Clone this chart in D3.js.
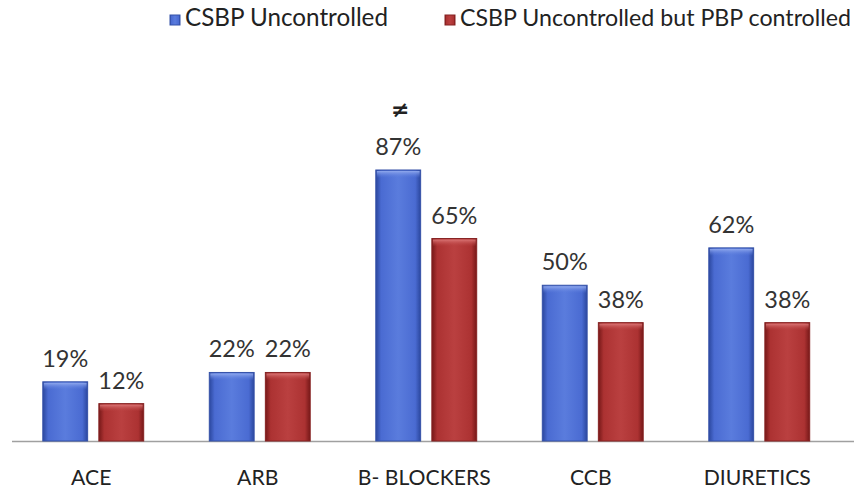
<!DOCTYPE html>
<html><head><meta charset="utf-8">
<script src="https://cdn.jsdelivr.net/npm/d3@7"></script>
<style>body{margin:0;background:#fff;} svg{display:block;}</style>
</head><body>
<svg id="chart" width="854" height="490"></svg>
<script>
const categories = ["ACE", "ARB", "B- BLOCKERS", "CCB", "DIURETICS"];
const seriesNames = ["CSBP Uncontrolled", "CSBP Uncontrolled but PBP controlled"];
const uncontrolled = [19, 22, 87, 50, 62];
const pbpControlled = [12, 22, 65, 38, 38];
const markers = ["", "", "≠", "", ""];

const svg = d3.select("#chart");
const FONT = "Lato, 'Open Sans', sans-serif";
const W = 854, H = 490;
const baseY = 441;

const x0 = d3.scaleBand().domain(categories).range([10, 842.5]).paddingInner(0.394).paddingOuter(0.197);
const x1 = d3.scaleBand().domain([0, 1]).range([0, x0.bandwidth()]).paddingInner(0.2);
const y = d3.scaleLinear().domain([0, 100]).range([baseY, 129.5]);

const colors = [
  {id: "gBlue", tid: "tBlue", edge: "#2b479e", mid: "#4a6bd2", light: "#5a7cdd", top: "#93abee", stroke: "#3552a8"},
  {id: "gRed", tid: "tRed", edge: "#761818", mid: "#ac3232", light: "#ba4040", top: "#dc7878", stroke: "#862222"}
];
const defs = svg.append("defs");
colors.forEach(c => {
  const g = defs.append("linearGradient").attr("id", c.id).attr("x1", 0).attr("x2", 1).attr("y1", 0).attr("y2", 0);
  g.append("stop").attr("offset", "0").attr("stop-color", c.edge);
  g.append("stop").attr("offset", "0.12").attr("stop-color", c.mid);
  g.append("stop").attr("offset", "0.5").attr("stop-color", c.light);
  g.append("stop").attr("offset", "0.88").attr("stop-color", c.mid);
  g.append("stop").attr("offset", "1").attr("stop-color", c.edge);
  const t = defs.append("linearGradient").attr("id", c.tid).attr("x1", 0).attr("x2", 0).attr("y1", 0).attr("y2", 1);
  t.append("stop").attr("offset", "0").attr("stop-color", c.top).attr("stop-opacity", 0.95);
  t.append("stop").attr("offset", "1").attr("stop-color", c.light).attr("stop-opacity", 0);
});

function fitSize(text, targetW, weight) {
  const t = svg.append("text").attr("font-family", FONT).attr("font-size", 20).attr("font-weight", weight || 400).text(text);
  const w = t.node().getComputedTextLength();
  t.remove();
  return 20 * targetW / w;
}

// axis line
svg.append("line").attr("x1", 12).attr("x2", W).attr("y1", baseY + 0.5).attr("y2", baseY + 0.5)
  .attr("stroke", "#a0a0a0").attr("stroke-width", 1.5);

const data = categories.map((c, i) => ({cat: c, vals: [uncontrolled[i], pbpControlled[i]], mark: markers[i]}));

const valSize = fitSize("87%", 46);
const catSize = fitSize("B- BLOCKERS", 133);

const groups = svg.selectAll("g.grp").data(data).join("g").attr("class", "grp")
  .attr("transform", d => `translate(${x0(d.cat)},0)`);

groups.selectAll("g.bar").data(d => d.vals.map((v, k) => ({v, k}))).join("g").attr("class", "bar").each(function(d) {
  const g = d3.select(this);
  const c = colors[d.k];
  const bx = x1(d.k), bw = x1.bandwidth(), by = y(d.v), bh = baseY - y(d.v);
  g.append("rect").attr("x", bx).attr("y", by).attr("width", bw).attr("height", bh)
    .attr("fill", `url(#${c.id})`).attr("stroke", c.stroke).attr("stroke-width", 1);
  g.append("rect").attr("x", bx + 1).attr("y", by + 1).attr("width", bw - 2).attr("height", 7)
    .attr("fill", `url(#${c.tid})`);
  g.append("text").attr("x", bx + bw / 2).attr("y", by - 15).attr("text-anchor", "middle")
    .attr("font-family", FONT).attr("font-size", valSize).attr("fill", "#333").text(d.v + "%");
});

groups.filter(d => d.mark).append("text")
  .attr("x", d => x1(0) + x1.bandwidth() / 2 + 2)
  .attr("y", d => y(d.vals[0]) - 53)
  .attr("text-anchor", "middle").attr("font-family", "'DejaVu Sans', sans-serif").attr("font-size", 22).attr("font-weight", 700)
  .attr("fill", "#222").text(d => d.mark);

groups.append("text").attr("x", x0.bandwidth() / 2 - 2).attr("y", 485).attr("text-anchor", "middle")
  .attr("font-family", FONT).attr("font-size", catSize).attr("fill", "#222").text(d => d.cat);

// legend
const legSizes = [fitSize(seriesNames[0], 203), Math.min(fitSize(seriesNames[0], 203), fitSize(seriesNames[1], 391))];
const legX = [170, 445];
const leg = svg.selectAll("g.leg").data(seriesNames).join("g").attr("class", "leg")
  .attr("transform", (d, i) => `translate(${legX[i]},15)`);
leg.append("rect").attr("width", 10).attr("height", 10)
  .attr("fill", (d, i) => `url(#${colors[i].id})`).attr("stroke", (d, i) => colors[i].stroke);
leg.append("text").attr("x", 15).attr("y", 10.5).attr("font-family", FONT).attr("font-size", (d, i) => legSizes[i])
  .attr("fill", "#222").text(d => d);
</script>
</body></html>
